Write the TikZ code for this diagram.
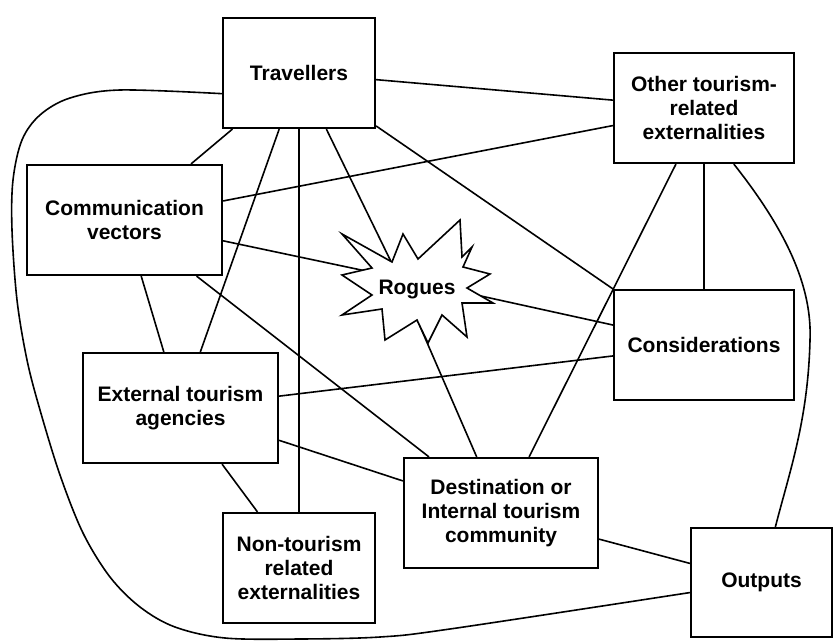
\documentclass[tikz,border=0pt]{standalone}
\usepackage{fontspec}
\setmainfont{Liberation Sans}

\tikzset{
  block/.style={draw, line width=1.1pt, align=center, inner sep=0pt,
    font=\fontsize{10.5}{12}\selectfont\bfseries},
  link/.style={line width=0.8pt, line join=round}
}

\begin{document}
\begin{tikzpicture}[x=1pt, y=-1pt, scale=0.5]
  \useasboundingbox (0,0) rectangle (833,641);
  % the boxes
  \node[block, minimum width=76pt, minimum height=55pt] (trav) at (299,73) {Travellers};
  \node[block, minimum width=90pt, minimum height=55pt] (other) at (704,108) {Other tourism-\\related\\externalities};
  \node[block, minimum width=97.5pt, minimum height=55pt] (comm) at (124.5,220) {Communication\\vectors};
  \node[block, minimum width=90pt, minimum height=55pt] (cons) at (704,345) {Considerations};
  \node[block, minimum width=97.5pt, minimum height=55pt] (ext) at (180.5,408) {External tourism\\agencies};
  \node[block, minimum width=97pt, minimum height=55pt] (dest) at (501,513) {Destination or\\Internal tourism\\community};
  \node[block, minimum width=76pt, minimum height=55pt] (nontour) at (299,568) {Non-tourism\\related\\externalities};
  \node[block, minimum width=70.5pt, minimum height=54.5pt] (outp) at (761.5,582.5) {Outputs};
  \coordinate (hub) at (399,278);

  % straight links
  \draw[link] (trav) -- (other);
  \draw[link] (trav) -- (comm);
  \draw[link] (trav) -- (ext);
  \draw[link] (trav) -- (nontour);
  \draw[link] (trav) -- (hub);
  \draw[link] (trav) -- (cons.north west);
  \draw[link] (other) -- (comm);
  \draw[link] (other) -- (dest);
  \draw[link] (other) -- (cons);
  \draw[link] (comm) -- (hub);
  \draw[link] (comm) -- (ext);
  \draw[link] (comm) -- (dest);
  \draw[link] (ext) -- (cons);
  \draw[link] (ext) -- (dest);
  \draw[link] (ext) -- (nontour);
  \draw[link] (dest) -- (outp);
  \draw[link] (dest) -- (hub);
  \draw[link] (cons) -- (hub);

  % curved links
  \draw[link] (other.-62) .. controls (790,235) and (812,290) .. (810,340)
    .. controls (808,420) and (790,470) .. (outp.76);
  \draw[link] plot[smooth, tension=0.55] coordinates {(trav.195) (120,90) (70,98)
    (40,115) (22,140) (13,180) (12,230) (17,300) (27,360) (40,410) (60,475)
    (83,533) (110,577) (140,607) (175,627) (225,638) (300,639) (380,637)
    (450,629) (outp.188)};

  % the star
  \filldraw[link, fill=white, line join=miter] (342,234) -- (392,262) -- (403,234)
    -- (418,259) -- (460,220) -- (462,257) -- (472,247) -- (463,267)
    -- (490,274) -- (467,288) -- (493,303) -- (462,303) -- (467,337)
    -- (442,315) -- (428,343) -- (417,320) -- (385,340) -- (382,309)
    -- (342,315) -- (372,295) -- (342,275) -- (372,268) -- cycle;
  \node[font=\fontsize{10.5}{12}\selectfont\bfseries] (rogues) at (417,290) {Rogues};
\end{tikzpicture}
\end{document}
